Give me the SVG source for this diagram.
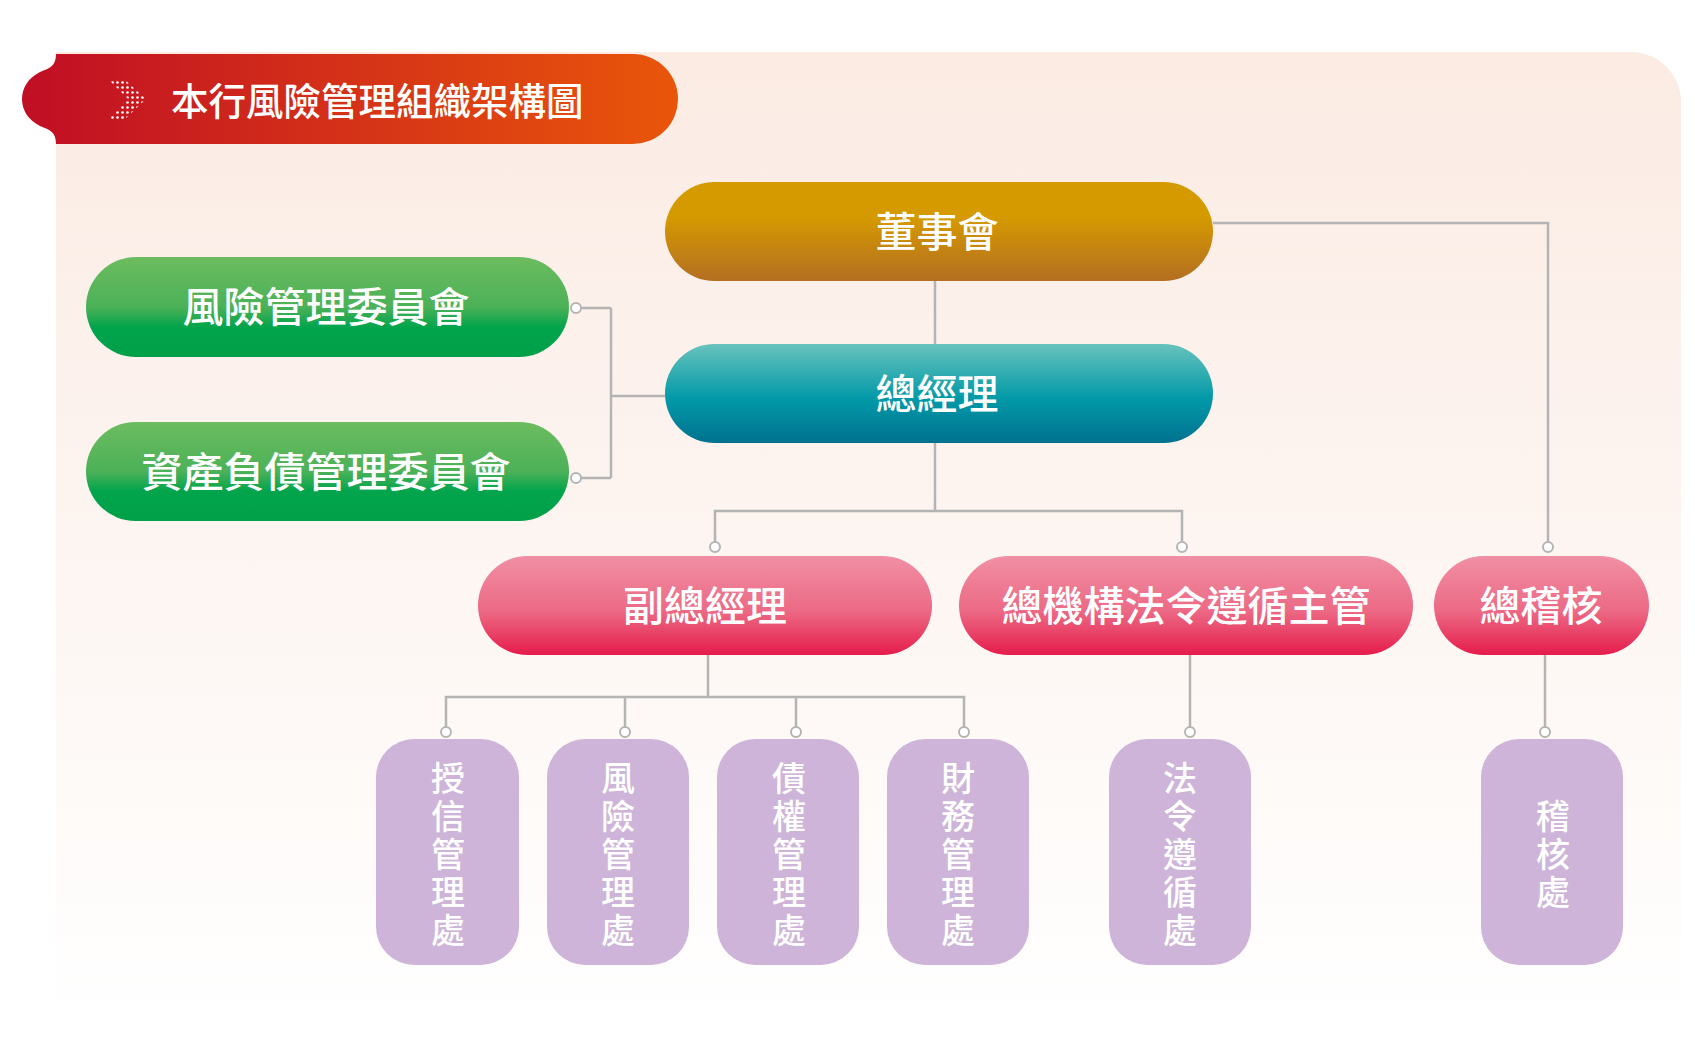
<svg xmlns="http://www.w3.org/2000/svg" width="1695" height="1038" viewBox="0 0 1695 1038">
<defs>
<linearGradient id="bg" x1="0" y1="0" x2="0" y2="1"><stop offset="0" stop-color="#fbebe3"/><stop offset="1" stop-color="#ffffff"/></linearGradient>
<linearGradient id="ban" x1="0" y1="0" x2="1" y2="0"><stop offset="0" stop-color="#c00e25"/><stop offset="1" stop-color="#e9560a"/></linearGradient>
<linearGradient id="gold" x1="0" y1="0" x2="0" y2="1"><stop offset="0.35" stop-color="#d59a00"/><stop offset="1" stop-color="#b46e22"/></linearGradient>
<linearGradient id="teal" x1="0" y1="0" x2="0" y2="1"><stop offset="0" stop-color="#68c3bc"/><stop offset="0.55" stop-color="#0299a8"/><stop offset="1" stop-color="#00728f"/></linearGradient>
<linearGradient id="green" x1="0" y1="0" x2="0" y2="1"><stop offset="0" stop-color="#6cbc5f"/><stop offset="0.5" stop-color="#4cb158"/><stop offset="0.7" stop-color="#02a44c"/><stop offset="1" stop-color="#00a049"/></linearGradient>
<linearGradient id="pink" x1="0" y1="0" x2="0" y2="1"><stop offset="0" stop-color="#f08fa4"/><stop offset="0.55" stop-color="#ec6a85"/><stop offset="1" stop-color="#e51c4b"/></linearGradient>
<pattern id="dots" width="5" height="5" patternUnits="userSpaceOnUse"><circle cx="2.5" cy="2.5" r="1.3" fill="#fff"/></pattern>
<marker id="c" viewBox="-7 -7 14 14" markerWidth="14" markerHeight="14" markerUnits="userSpaceOnUse"><circle r="5" fill="#fff" stroke="#b4b4b4" stroke-width="2"/></marker>
</defs>
<style>
.t{font-family:"Noto Sans CJK TC","Noto Sans CJK SC",sans-serif;font-weight:500;fill:#fff;text-anchor:middle}
.big{font-size:41px}
.v{font-size:34px}
.ln{fill:none;stroke:#b4b4b4;stroke-width:2.5}
.pur{fill:#cdb4d8}
</style>
<path d="M56,52 H1631 A50,50 0 0 1 1681,102 V1027 H56 Z" fill="url(#bg)"/>
<g id="title">
<path d="M56,54 H633 A45,45 0 0 1 633,144 H56 C56,132 50,130 40,126 C28,120 22,110 22,99 C22,88 28,78 40,72 C50,68 56,66 56,54 Z" fill="url(#ban)"/>
<polygon points="108,79 124,79 146,99 124,120 108,120 128,99" fill="url(#dots)"/>
<text x="171" y="115" class="t" style="font-size:37.5px;text-anchor:start">本行風險管理組織架構圖</text>
</g>
<g id="connectors">
<polyline class="ln" points="1213,223 1548,223 1548,547" marker-end="url(#c)"/>
<line class="ln" x1="935" y1="281" x2="935" y2="344"/>
<polyline class="ln" points="665,396 611,396"/>
<polyline class="ln" points="611,308 611,478"/>
<line class="ln" x1="611" y1="308" x2="576" y2="308" marker-end="url(#c)"/>
<line class="ln" x1="611" y1="478" x2="576" y2="478" marker-end="url(#c)"/>
<polyline class="ln" points="935,443 935,511"/>
<polyline class="ln" points="715,547 715,511 1182,511 1182,547" marker-start="url(#c)" marker-end="url(#c)"/>
<line class="ln" x1="708" y1="655" x2="708" y2="697"/>
<polyline class="ln" points="446,732 446,697 964,697 964,732" marker-start="url(#c)" marker-end="url(#c)"/>
<line class="ln" x1="625" y1="697" x2="625" y2="732" marker-end="url(#c)"/>
<line class="ln" x1="796" y1="697" x2="796" y2="732" marker-end="url(#c)"/>
<line class="ln" x1="1190" y1="655" x2="1190" y2="732" marker-end="url(#c)"/>
<line class="ln" x1="1545" y1="655" x2="1545" y2="732" marker-end="url(#c)"/>
</g>
<g id="board"><rect x="665" y="182" width="548" height="99" rx="49.5" fill="url(#gold)"/><text x="937" y="247" class="t big">董事會</text></g>
<g id="ceo"><rect x="665" y="344" width="548" height="99" rx="49.5" fill="url(#teal)"/><text x="937" y="409" class="t big">總經理</text></g>
<g id="riskcom"><rect x="86" y="257" width="483" height="100" rx="50" fill="url(#green)"/><text x="326" y="322" class="t big">風險管理委員會</text></g>
<g id="alco"><rect x="86" y="422" width="483" height="99" rx="49.5" fill="url(#green)"/><text x="326" y="487" class="t big">資產負債管理委員會</text></g>
<g id="vp"><rect x="478" y="556" width="454" height="99" rx="49.5" fill="url(#pink)"/><text x="705" y="621" class="t big">副總經理</text></g>
<g id="compliance"><rect x="959" y="556" width="454" height="99" rx="49.5" fill="url(#pink)"/><text x="1186" y="621" class="t big">總機構法令遵循主管</text></g>
<g id="audit"><rect x="1434" y="556" width="215" height="99" rx="49.5" fill="url(#pink)"/><text x="1541" y="621" class="t big">總稽核</text></g>
<g id="d1"><rect class="pur" x="376" y="739" width="143" height="226" rx="38"/><text class="t v" x="448"><tspan x="448" y="791">授</tspan><tspan x="448" y="829">信</tspan><tspan x="448" y="867">管</tspan><tspan x="448" y="905">理</tspan><tspan x="448" y="943">處</tspan></text></g>
<g id="d2"><rect class="pur" x="547" y="739" width="142" height="226" rx="38"/><text class="t v" x="618"><tspan x="618" y="791">風</tspan><tspan x="618" y="829">險</tspan><tspan x="618" y="867">管</tspan><tspan x="618" y="905">理</tspan><tspan x="618" y="943">處</tspan></text></g>
<g id="d3"><rect class="pur" x="717" y="739" width="142" height="226" rx="38"/><text class="t v" x="789"><tspan x="789" y="791">債</tspan><tspan x="789" y="829">權</tspan><tspan x="789" y="867">管</tspan><tspan x="789" y="905">理</tspan><tspan x="789" y="943">處</tspan></text></g>
<g id="d4"><rect class="pur" x="887" y="739" width="142" height="226" rx="38"/><text class="t v" x="958"><tspan x="958" y="791">財</tspan><tspan x="958" y="829">務</tspan><tspan x="958" y="867">管</tspan><tspan x="958" y="905">理</tspan><tspan x="958" y="943">處</tspan></text></g>
<g id="d5"><rect class="pur" x="1109" y="739" width="142" height="226" rx="38"/><text class="t v" x="1180"><tspan x="1180" y="791">法</tspan><tspan x="1180" y="829">令</tspan><tspan x="1180" y="867">遵</tspan><tspan x="1180" y="905">循</tspan><tspan x="1180" y="943">處</tspan></text></g>
<g id="d6"><rect class="pur" x="1481" y="739" width="142" height="226" rx="38"/><text class="t v" x="1553"><tspan x="1553" y="829">稽</tspan><tspan x="1553" y="867">核</tspan><tspan x="1553" y="905">處</tspan></text></g>
</svg>
